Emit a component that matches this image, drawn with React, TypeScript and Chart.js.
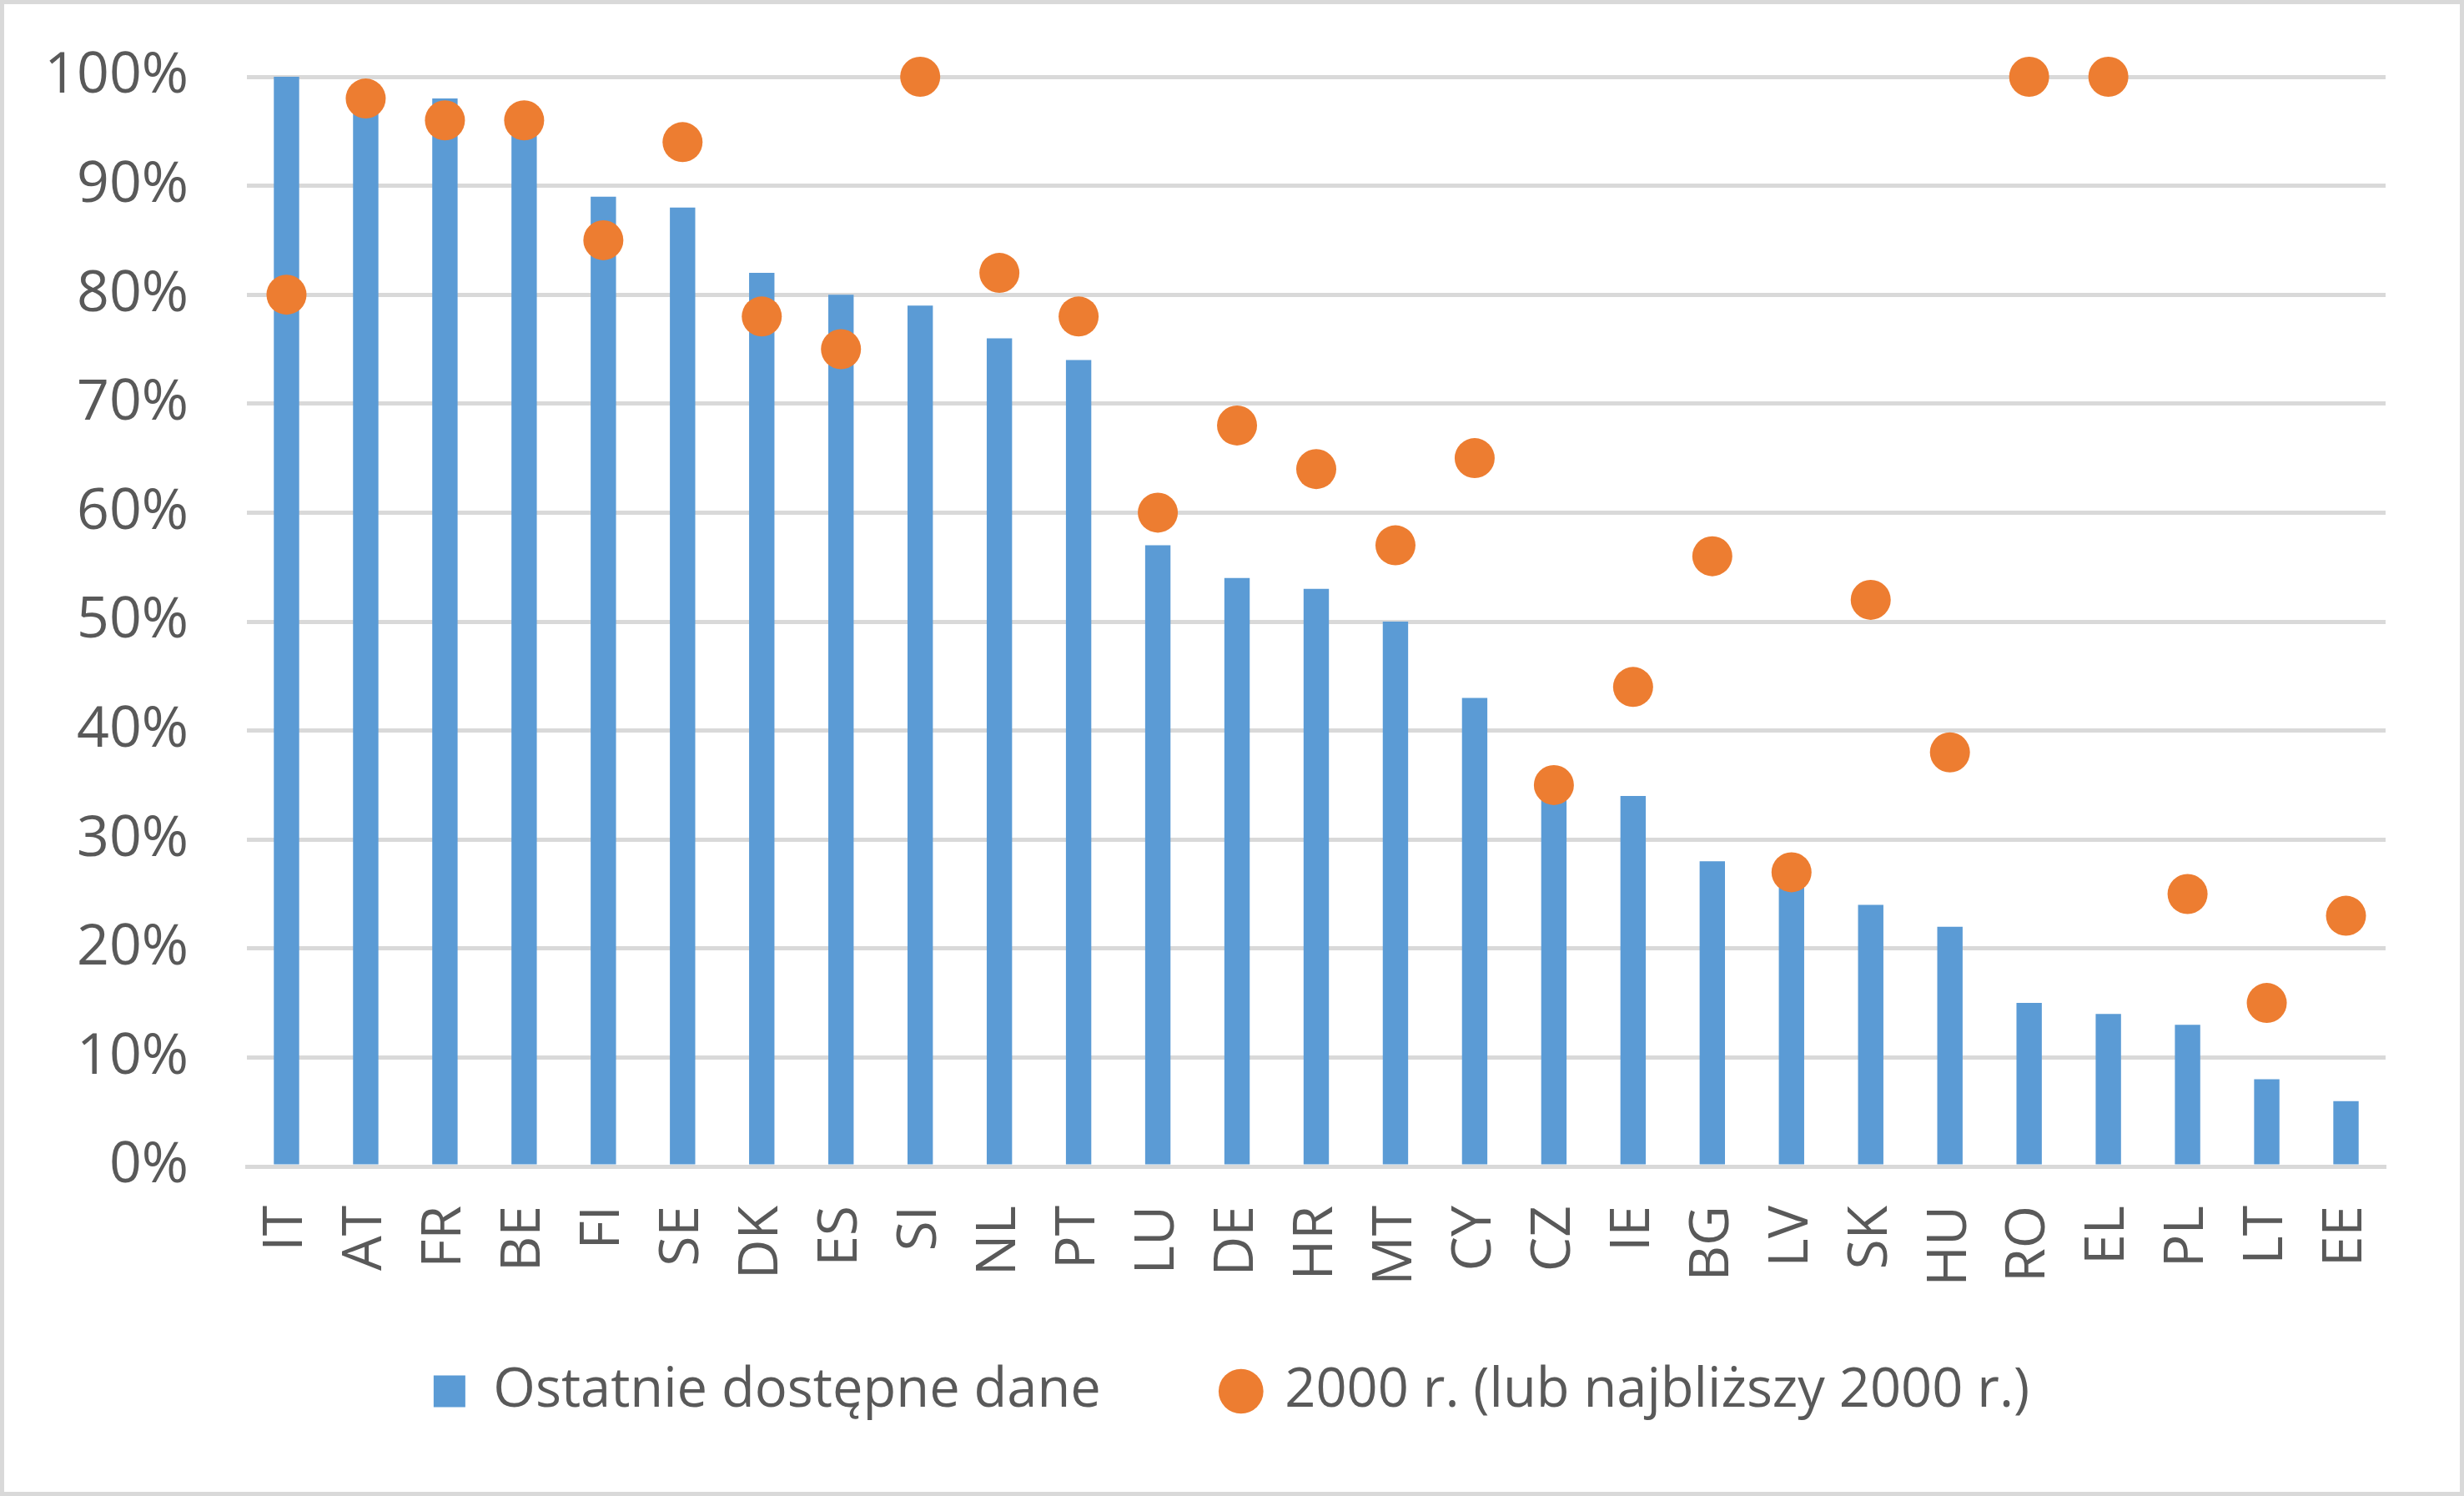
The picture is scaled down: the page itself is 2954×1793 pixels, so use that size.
import React, { useEffect, useRef } from 'react';
import { Chart, registerables } from 'chart.js';

// country codes, ordered as in the figure
const countries = [
  'IT', 'AT', 'FR', 'BE', 'FI', 'SE', 'DK', 'ES', 'SI', 'NL', 'PT', 'LU', 'DE', 'HR',
  'MT', 'CY', 'CZ', 'IE', 'BG', 'LV', 'SK', 'HU', 'RO', 'EL', 'PL', 'LT', 'EE',
];

// "Ostatnie dostępne dane" (bars, %)
const latestData = [
  100, 97, 98, 95, 89, 88, 82, 80, 79, 76, 74, 57, 54, 53,
  50, 43, 34, 34, 28, 26, 24, 22, 15, 14, 13, 8, 6,
];

// "2000 r. (lub najbliższy 2000 r.)" (dots, %)
const year2000Data = [
  80, 98, 96, 96, 85, 94, 78, 75, 100, 82, 78, 60, 68, 64,
  57, 65, 35, 44, 56, 27, 52, 38, 100, 100, 25, 15, 23,
];

const seriesLabels = ['Ostatnie dostępne dane', '2000 r. (lub najbliższy 2000 r.)'];

const yMin = 0;
const yMax = 100;
const yStep = 10;

const W = 2954;
const H = 1793;
const TEXT = '#595959';
const GRID = '#D9D9D9';
const FONT = '"Open Sans", "Noto Sans", sans-serif';

// the legend row sits closer to the axis labels than Chart.js would put it
const legendNudge = {
  id: 'legendNudge',
  afterLayout(chart: any) {
    const lg = chart.legend;
    if (!lg) return;
    lg.left += 46;
    lg.right += 46;
    lg.top -= 61;
    lg.bottom -= 61;
  },
};

const ComboChart = () => {
  const canvasRef = useRef<HTMLCanvasElement>(null);

  useEffect(() => {
    Chart.register(...registerables);
    if (!canvasRef.current) return;

    const chart = new Chart(canvasRef.current, {
      type: 'bar',
      data: {
        labels: countries,
        datasets: [
          {
            type: 'bar',
            label: seriesLabels[0],
            data: latestData,
            backgroundColor: '#5B9BD5',
            borderWidth: 0,
            barPercentage: 0.32,
            categoryPercentage: 1,
            pointStyle: 'rect',
            order: 2,
          },
          {
            type: 'line',
            label: seriesLabels[1],
            data: year2000Data,
            showLine: false,
            clip: false,
            borderColor: '#ED7D31',
            backgroundColor: '#ED7D31',
            pointBackgroundColor: '#ED7D31',
            pointBorderWidth: 0,
            pointRadius: 24,
            pointHoverRadius: 24,
            pointStyle: 'circle',
            order: 1,
          },
        ],
      } as any,
      options: {
        responsive: false,
        devicePixelRatio: 1,
        animation: false,
        events: [],
        layout: { padding: { left: 0, right: 94, top: 92, bottom: 22 } },
        plugins: {
          tooltip: { enabled: false },
          legend: {
            position: 'bottom',
            labels: {
              usePointStyle: true,
              boxHeight: 38,
              padding: 148,
              color: TEXT,
              font: { family: FONT, size: 65 },
              sort: (a: any, b: any) => a.datasetIndex - b.datasetIndex,
            },
          },
        },
        scales: {
          x: {
            grid: { display: false, drawTicks: false },
            border: { display: true, color: GRID, width: 5 },
            ticks: {
              autoSkip: false,
              minRotation: 90,
              maxRotation: 90,
              padding: 47,
              color: TEXT,
              font: { family: FONT, size: 66 },
            },
            afterFit: (s: any) => {
              s.height = 150;
            },
          },
          y: {
            min: yMin,
            max: yMax,
            // invisible tick marks keep the labels away from the plot
            grid: { color: GRID, lineWidth: 5, drawTicks: true, tickLength: 60, tickColor: 'rgba(0,0,0,0)' },
            border: { display: false },
            ticks: {
              stepSize: yStep,
              padding: 10,
              color: TEXT,
              font: { family: FONT, size: 68 },
              callback: (v: any) => `${v}%`,
            },
            afterFit: (s: any) => {
              s.width = 296;
            },
          },
        },
      },
      plugins: [legendNudge],
    });

    return () => {
      chart.destroy();
    };
  }, []);

  return <canvas ref={canvasRef} width={W} height={H} style={{ display: 'block', width: W, height: H }} />;
};

export default function App() {
  return (
    <div style={{ position: 'absolute', left: 0, top: 0, width: W, height: H, background: '#fff' }}>
      <ComboChart />
      <div
        style={{
          position: 'absolute',
          inset: 0,
          border: `5px solid ${GRID}`,
          boxSizing: 'border-box',
          pointerEvents: 'none',
        }}
      />
    </div>
  );
}
